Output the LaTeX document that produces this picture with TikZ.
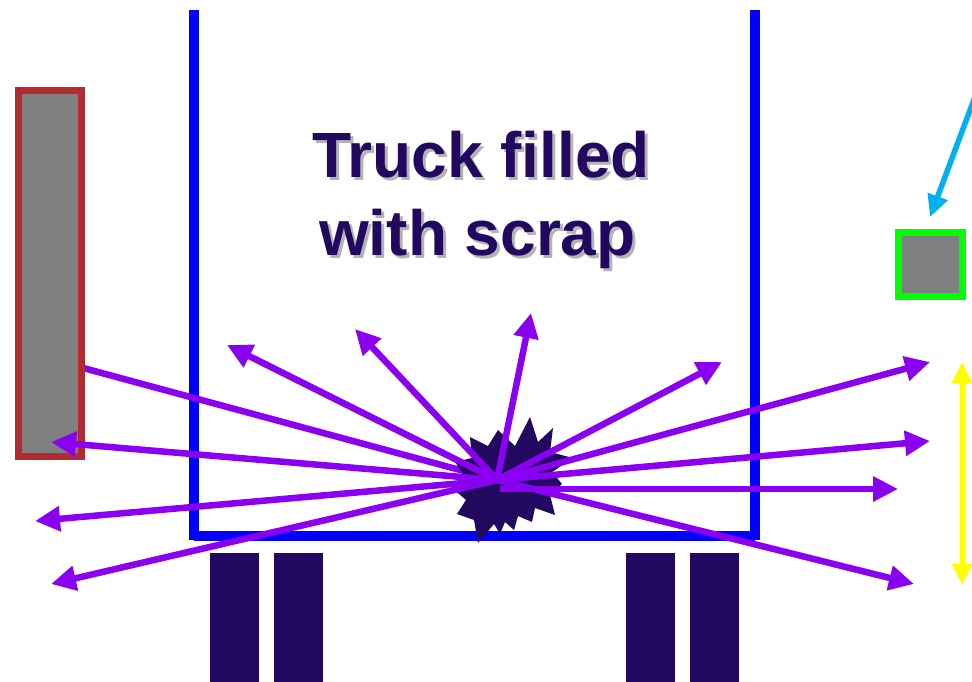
\documentclass[tikz,border=0pt]{standalone}
\usepackage{fontspec}
\setmainfont{Liberation Sans}
\usetikzlibrary{arrows.meta}
\definecolor{inkc}{HTML}{22085E}
\definecolor{rayc}{HTML}{8A00F0}
\definecolor{truckc}{HTML}{0000FF}
\definecolor{redc}{HTML}{B22B33}
\definecolor{greenc}{HTML}{00FF00}
\definecolor{cyanc}{HTML}{00B0F0}
\definecolor{yellowc}{HTML}{FFFF00}
\definecolor{grayc}{HTML}{808080}
\definecolor{shadowc}{HTML}{B4B4B4}
\begin{document}
\begin{tikzpicture}[x=1pt,y=-1pt,
  ray/.style={draw=rayc, line width=6.5pt, -{Triangle[length=25pt,width=24pt]}},
  wall/.style={draw=truckc, line width=10pt},
  wheel/.style={fill=inkc},
  panel/.style={fill=grayc, line width=7pt},
  label/.style={font=\bfseries\fontsize{64}{75}\selectfont, inner sep=0pt, anchor=base west}]
\useasboundingbox (0,0) rectangle (972,682);
% truck body
\coordinate (wlt) at (194,10);
\coordinate (wlb) at (194,540);
\coordinate (wrt) at (755,10);
\coordinate (wrb) at (755,540);
\coordinate (fl) at (194,536);
\coordinate (fr) at (755,536);
\draw[wall] (wlt) -- (wlb);
\draw[wall] (wrt) -- (wrb);
\draw[wall] (fl) -- (fr);
% wheels
\fill[wheel] (210,553) rectangle (259,682);
\fill[wheel] (274,553) rectangle (323,682);
\fill[wheel] (626,553) rectangle (675,682);
\fill[wheel] (690,553) rectangle (739,682);
% text with shadow
\node[label, text=shadowc] (t1s) at (315,181) {Truck filled};
\node[label, text=shadowc] (t2s) at (322,258) {with scrap};
\node[label, text=inkc] (t1) at (312,178) {Truck filled};
\node[label, text=inkc] (t2) at (319,255) {with scrap};
% centre of burst
\coordinate (c) at (497,480);
% ray behind the red panel
\coordinate (e1) at (50,359);
\draw[ray] (c) -- (e1);
% red panel
\node[panel, draw=redc, minimum width=63pt, minimum height=366pt, inner sep=0pt] (rp) at (50,273.5) {};
% burst
\fill[inkc] (498,430) -- (515,446) -- (530,417) -- (538,442) -- (553,428) -- (550,452)
  -- (573,458) -- (552,472) -- (562,484) -- (550,495) -- (555,515) -- (535,508)
  -- (532,522) -- (518,516) -- (514,530) -- (505,522) -- (500,534) -- (494,524)
  -- (478,543) -- (474,520) -- (457,514) -- (466,500) -- (452,488) -- (466,478)
  -- (455,462) -- (472,458) -- (470,437) -- (488,446) -- cycle;
% rays
\coordinate (e2) at (51,442);
\coordinate (e3) at (35,521);
\coordinate (e4) at (51,584);
\coordinate (e5) at (227,345);
\coordinate (e6) at (355,329);
\coordinate (e7) at (531,313);
\coordinate (e8) at (722,362);
\coordinate (e9) at (930,362);
\coordinate (e10) at (930,441);
\coordinate (c11) at (500,489);
\coordinate (e11) at (898,489);
\coordinate (e12) at (914,584);
\foreach \e in {e2,e3,e4,e5,e6,e7,e8,e9,e10,e12}
  \draw[ray] (c) -- (\e);
\draw[ray] (c11) -- (e11);
% green square
\node[panel, draw=greenc, minimum width=64pt, minimum height=64pt, inner sep=0pt] (gs) at (930.5,264.5) {};
% cyan arrow
\coordinate (cs) at (985,70);
\coordinate (ce) at (930,217);
\draw[draw=cyanc, line width=5.5pt, -{Triangle[length=22pt,width=20pt]}] (cs) -- (ce);
% yellow double arrow
\coordinate (ya) at (962,362);
\coordinate (yb) at (962,585);
\draw[draw=yellowc, line width=5pt, {Triangle[length=21pt,width=19pt]}-{Triangle[length=21pt,width=19pt]}] (ya) -- (yb);
\end{tikzpicture}
\end{document}
